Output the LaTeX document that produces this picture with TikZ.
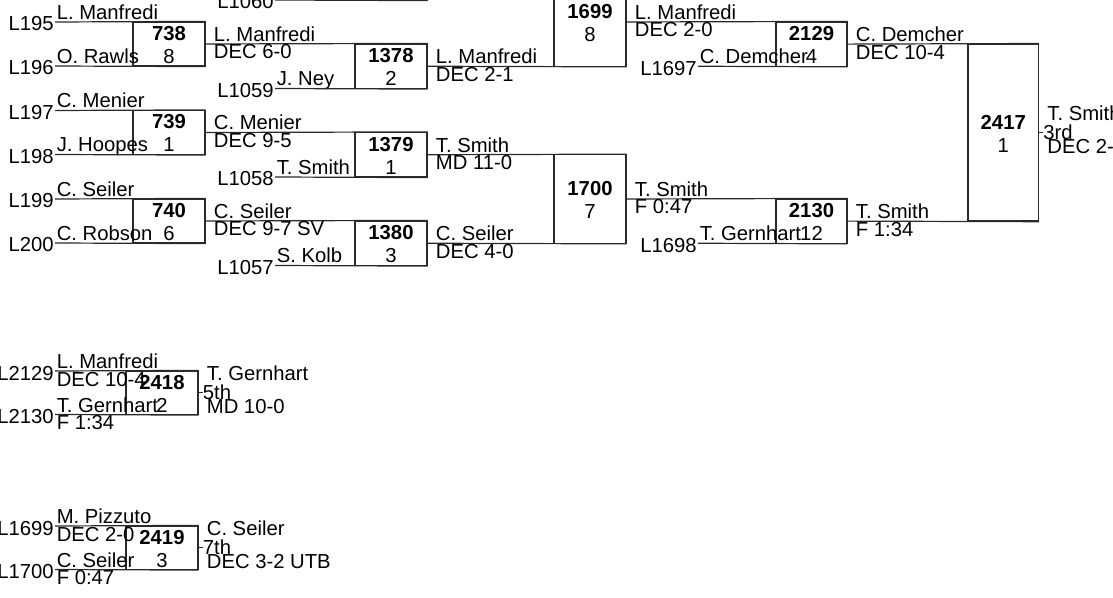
\documentclass[tikz,border=0pt]{standalone}
\usepackage{fontspec}
\setmainfont{Liberation Sans}
\usetikzlibrary{fit,calc}
\definecolor{lnc}{HTML}{2A2A2A}
\tikzset{
  boxst/.style={draw=lnc, line width=0.9pt, inner sep=0pt, rectangle},
  lnst/.style={draw=lnc, line width=0.9pt},
  numst/.style={font=\fontsize{15.2}{18}\selectfont\bfseries, anchor=base, inner sep=0pt},
  seedst/.style={font=\fontsize{15.2}{18}\selectfont, anchor=base, inner sep=0pt},
  namest/.style={font=\fontsize{15.2}{18}\selectfont, anchor=base west, inner sep=0pt},
  labst/.style={font=\fontsize{15.2}{18}\selectfont, anchor=base east, inner sep=0pt},
}
% box: name, x1, y1, x2, y2, number, seed
\newcommand\brbox[7]{%
  \coordinate (#1-tl) at (#2,#3);
  \coordinate (#1-br) at (#4,#5);
  \node[boxst, fit=(#1-tl)(#1-br)] (#1) {};
  \node[numst] (#1-num) at ($(#1.center)+(0,-3.5)$) {#6};
  \node[seedst] (#1-seed) at ($(#1.center)+(0,19.5)$) {#7};
}
% entry line start: coord name, x, y, label, wrestler
\newcommand\brentry[5]{%
  \coordinate (#1) at (#2,#3);
  \node[labst] (#1-lab) at ($(#1)+(-1,9)$) {#4};
  \node[namest] (#1-nm) at ($(#1)+(1.5,-2.5)$) {#5};
}
% score under an entry line
\newcommand\brscore[2]{%
  \node[namest] (#1-sc) at ($(#1)+(1.5,15)$) {#2};
}
% winner texts after a box
\newcommand\brwin[3]{%
  \node[namest] (#1-wn) at ($(#1.east)+(8,-2.5)$) {#2};
  \node[namest] (#1-ws) at ($(#1.east)+(8,15)$) {#3};
}
% placement output: box, name, place, score
\newcommand\brplace[4]{%
  \coordinate (#1-out) at ($(#1.east)+(4,0)$);
  \draw[lnst] (#1.east) -- (#1-out);
  \node[namest] (#1-pn) at ($(#1.east)+(8,-12)$) {#2};
  \node[namest] (#1-pp) at ($(#1-out)+(0,7)$) {#3};
  \node[namest] (#1-ps) at ($(#1.east)+(8,21)$) {#4};
}
\begin{document}
\begin{tikzpicture}[x=0.75pt,y=-0.75pt]
\useasboundingbox (0,0) rectangle (1113,598);
\clip (0,0) rectangle (1113,598);

% ---------- Round 1
\brbox{m738}{133}{22}{205}{66}{738}{8}
\brbox{m739}{133}{110.5}{205}{154.5}{739}{1}
\brbox{m740}{133}{199}{205}{243}{740}{6}
\brentry{e195}{55}{22}{L195}{L. Manfredi}
\brentry{e196}{55}{66}{L196}{O. Rawls}
\brentry{e197}{55}{110.5}{L197}{C. Menier}
\brentry{e198}{55}{154.5}{L198}{J. Hoopes}
\brentry{e199}{55}{199}{L199}{C. Seiler}
\brentry{e200}{55}{243}{L200}{C. Robson}
\draw[lnst] (e195) -- (m738.north east);
\draw[lnst] (e196) -- (m738.south east);
\draw[lnst] (e197) -- (m739.north east);
\draw[lnst] (e198) -- (m739.south east);
\draw[lnst] (e199) -- (m740.north east);
\draw[lnst] (e200) -- (m740.south east);

% ---------- Round 2
\brbox{m1377}{355}{-44.5}{427}{0}{}{}
\brbox{m1378}{355}{44}{427}{88.5}{1378}{2}
\brbox{m1379}{355}{132.5}{427}{177}{1379}{1}
\brbox{m1380}{355}{221}{427}{265.5}{1380}{3}
\brentry{e1060}{275}{0}{L1060}{}
\brentry{e1059}{275}{88.5}{L1059}{J. Ney}
\brentry{e1058}{275}{177}{L1058}{T. Smith}
\brentry{e1057}{275}{265.5}{L1057}{S. Kolb}
\draw[lnst] (e1060) -- (m1377.south east);
\draw[lnst] (e1059) -- (m1378.south east);
\draw[lnst] (e1058) -- (m1379.south east);
\draw[lnst] (e1057) -- (m1380.south east);
\draw[lnst] (m738.east) -- (m1378.north east);
\draw[lnst] (m739.east) -- (m1379.north east);
\draw[lnst] (m740.east) -- (m1380.north east);
\brwin{m738}{L. Manfredi}{DEC 6-0}
\brwin{m739}{C. Menier}{DEC 9-5}
\brwin{m740}{C. Seiler}{DEC 9-7 SV}

% ---------- Round 3
\brbox{m1699}{554}{-22.25}{626}{66.25}{1699}{8}
\brbox{m1700}{554}{154.75}{626}{243.25}{1700}{7}
\draw[lnst] (m1377.east) -- (m1699.north east);
\draw[lnst] (m1378.east) -- (m1699.south east);
\draw[lnst] (m1379.east) -- (m1700.north east);
\draw[lnst] (m1380.east) -- (m1700.south east);
\brwin{m1378}{L. Manfredi}{DEC 2-1}
\brwin{m1379}{T. Smith}{MD 11-0}
\brwin{m1380}{C. Seiler}{DEC 4-0}

% ---------- Round 4
\brbox{m2129}{776}{22}{847}{66.25}{2129}{4}
\brbox{m2130}{776}{199}{847}{243.25}{2130}{12}
\brentry{e1697}{698}{66.25}{L1697}{C. Demcher}
\brentry{e1698}{698}{243.25}{L1698}{T. Gernhart}
\draw[lnst] (e1697) -- (m2129.south east);
\draw[lnst] (e1698) -- (m2130.south east);
\draw[lnst] (m1699.east) -- (m2129.north east);
\draw[lnst] (m1700.east) -- (m2130.north east);
\brwin{m1699}{L. Manfredi}{DEC 2-0}
\brwin{m1700}{T. Smith}{F 0:47}

% ---------- Round 5
\brbox{m2417}{968}{44.1}{1038.5}{221.1}{2417}{1}
\draw[lnst] (m2129.east) -- (m2417.north east);
\draw[lnst] (m2130.east) -- (m2417.south east);
\brwin{m2129}{C. Demcher}{DEC 10-4}
\brwin{m2130}{T. Smith}{F 1:34}
\brplace{m2417}{T. Smith}{3rd}{DEC 2-}

% ---------- 5th place
\brbox{m2418}{126}{371}{198}{414.5}{2418}{2}
\brentry{e2129}{55}{371}{L2129}{L. Manfredi}
\brscore{e2129}{DEC 10-4}
\brentry{e2130}{55}{414.5}{L2130}{T. Gernhart}
\brscore{e2130}{F 1:34}
\draw[lnst] (e2129) -- (m2418.north east);
\draw[lnst] (e2130) -- (m2418.south east);
\brplace{m2418}{T. Gernhart}{5th}{MD 10-0}

% ---------- 7th place
\brbox{m2419}{126}{526}{198}{569.5}{2419}{3}
\brentry{e1699}{55}{526}{L1699}{M. Pizzuto}
\brscore{e1699}{DEC 2-0}
\brentry{e1700}{55}{569.5}{L1700}{C. Seiler}
\brscore{e1700}{F 0:47}
\draw[lnst] (e1699) -- (m2419.north east);
\draw[lnst] (e1700) -- (m2419.south east);
\brplace{m2419}{C. Seiler}{7th}{DEC 3-2 UTB}
\end{tikzpicture}
\end{document}
